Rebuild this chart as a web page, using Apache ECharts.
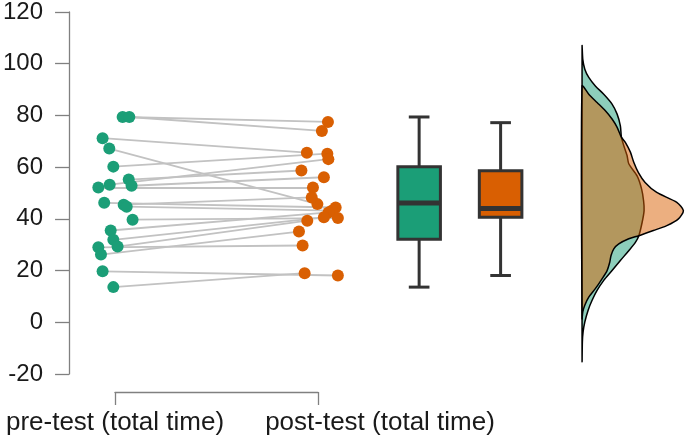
<!DOCTYPE html>
<html><head><meta charset="utf-8">
<script src="https://cdn.jsdelivr.net/npm/echarts@6/dist/echarts.min.js"></script>
<style>html,body{margin:0;padding:0;background:#fff}#c{width:685px;height:443px}</style>
</head><body><div id="c"></div>
<script>
// ---- data ----
const categories = ['pre-test (total time)', 'post-test (total time)'];
const yTicks = [-20, 0, 20, 40, 60, 80, 100, 120];

// paired observations (same index = same subject)
const preValues  = [79.4, 79.4, 71.2, 67.2, 60.2, 52.1, 53.2, 55.2, 52.8, 46.2, 45.5, 44.7, 39.7, 35.5, 31.9, 29.3, 29.0, 26.2, 19.7, 13.6];
const postValues = [77.5, 74.0, 65.6, 45.7, 65.2, 52.1, 63.1, 58.7, 56.1, 44.4, 48.3, 43.2, 40.3, 42.5, 40.6, 39.3, 29.7, 35.1, 18.1, 19.0];
// horizontal jitter of each point around its category
const preJitter  = [0.033, 0.066, -0.066, -0.033, -0.013, -0.087, -0.031, 0.063, 0.077, -0.058, 0.038, 0.053, 0.082, -0.026, -0.013, 0.008, -0.087, -0.074, -0.066, -0.013];
const postJitter = [0.046, 0.016, -0.058, -0.006, 0.043, -0.028, 0.048, -0.085, 0.026, 0.084, -0.034, 0.067, 0.095, 0.049, 0.026, -0.056, -0.079, -0.097, 0.095, -0.069];

// box statistics: [lower whisker, Q1, median, Q3, upper whisker]
const preBox  = [13.6, 32.1, 46.1, 60.2, 79.4];
const postBox = [18.1, 40.6, 44.0, 58.6, 77.2];

// half-violin densities (relative density at each value)
const preDensY  = [106.9, 101.7, 97.9, 94.7, 91.4, 88.2, 84.4, 80.5, 76.0, 71.6, 68.3, 64.5, 61.3, 56.6, 51.6, 47.0, 43.2, 38.5, 33.5, 30.9, 27.7, 23.9, 20.0, 16.2, 12.3, 8.5, 4.6, 0.1, -3.7, -7.6, -15.0];
const preDens   = [0, 0.007, 0.027, 0.066, 0.131, 0.214, 0.296, 0.346, 0.378, 0.388, 0.412, 0.444, 0.461, 0.543, 0.587, 0.607, 0.612, 0.592, 0.56, 0.526, 0.461, 0.378, 0.296, 0.214, 0.148, 0.099, 0.059, 0.027, 0.01, 0.003, 0];
const postDensY = [91.4, 88.2, 85.0, 81.8, 78.6, 75.4, 71.6, 69.6, 65.8, 61.9, 57.9, 54.1, 50.2, 46.4, 43.2, 40.0, 37.4, 35.5, 33.5, 32.3, 30.3, 28.4, 25.8, 23.2, 20.0, 16.8, 13.0, 9.7, 6.6, 4.0, 1.4];
const postDens  = [0, 0.066, 0.148, 0.23, 0.296, 0.346, 0.388, 0.427, 0.477, 0.51, 0.556, 0.622, 0.737, 0.935, 1.0, 0.951, 0.836, 0.704, 0.56, 0.461, 0.362, 0.313, 0.286, 0.273, 0.247, 0.197, 0.131, 0.066, 0.027, 0.007, 0];

// ---- layout / style ----
const GREEN = '#1b9e77', ORANGE = '#d95f02';
const catPos = [1, 2];
const boxPos = [2.496, 2.898];
const densBase = 3.3, densScale = 0.5;
const boxHalf = 0.105, capHalf = 0.051;
const FONT = 'Liberation Sans, Arial, sans-serif';
const FSY = 24, FSX = 26;

const prePts  = preValues.map((v, i) => [catPos[0] + preJitter[i], v]);
const postPts = postValues.map((v, i) => [catPos[1] + postJitter[i], v]);
const links = preValues.map((v, i) => ({ coords: [prePts[i], postPts[i]] }));

const boxData = [[boxPos[0], ...preBox], [boxPos[1], ...postBox]];
const boxColors = [GREEN, ORANGE];

const dens = [
  { y: preDensY, d: preDens, fill: 'rgba(27,158,119,0.5)' },
  { y: postDensY, d: postDens, fill: 'rgba(217,95,2,0.5)' }
];

const chart = echarts.init(document.getElementById('c'), null, { renderer: 'canvas' });
chart.setOption({
  animation: false,
  backgroundColor: '#fff',
  grid: [
    { left: 68, right: 0, top: 10.7, height: 363.3 },
    { left: 115, width: 203, top: 380, height: 12 }
  ],
  xAxis: [
    { type: 'value', gridIndex: 0, min: 1 - 47 / 203, max: 1 + 570 / 203, show: false },
    {
      type: 'value', gridIndex: 1, min: 1, max: 2, interval: 1, position: 'bottom',
      axisLine: { show: true, lineStyle: { color: '#808080', width: 1.3 } },
      axisTick: { show: true, length: 13, lineStyle: { color: '#808080', width: 1.3 } },
      splitLine: { show: false },
      axisLabel: {
        show: true, margin: 18, showMinLabel: true, showMaxLabel: true,
        color: '#1a1a1a', fontSize: FSX, fontFamily: FONT,
        formatter: v => v === 1 ? '{a|' + categories[0] + '}' : '{b|' + categories[1] + '}',
        rich: {
          a: { fontSize: FSX, fontFamily: FONT, color: '#1a1a1a' },
          b: { fontSize: FSX, fontFamily: FONT, color: '#1a1a1a', padding: [0, 0, 0, 124] }
        }
      }
    }
  ],
  yAxis: [
    {
      type: 'value', gridIndex: 0, min: yTicks[0], max: yTicks[yTicks.length - 1], interval: 20,
      axisLine: { show: true, lineStyle: { color: '#808080', width: 1.3 } },
      axisTick: { show: true, length: 14, lineStyle: { color: '#808080', width: 1.3 } },
      splitLine: { show: false },
      axisLabel: { margin: 26, color: '#1a1a1a', fontSize: FSY, fontFamily: FONT }
    },
    { type: 'value', gridIndex: 1, show: false, min: 0, max: 1 }
  ],
  series: [
    {
      type: 'lines', coordinateSystem: 'cartesian2d', xAxisIndex: 0, yAxisIndex: 0,
      data: links, silent: true, z: 1,
      lineStyle: { color: '#c2c2c2', width: 1.8, opacity: 1 }
    },
    {
      type: 'scatter', xAxisIndex: 0, yAxisIndex: 0, data: prePts, symbolSize: 12, z: 3,
      itemStyle: { color: GREEN, opacity: 1 }
    },
    {
      type: 'scatter', xAxisIndex: 0, yAxisIndex: 0, data: postPts, symbolSize: 12, z: 3,
      itemStyle: { color: ORANGE, opacity: 1 }
    },
    {
      type: 'custom', xAxisIndex: 0, yAxisIndex: 0, data: boxData, z: 4,
      encode: { x: 0, y: [1, 2, 3, 4, 5] },
      renderItem: (params, api) => {
        const x = api.value(0);
        const lo = api.coord([x, api.value(1)]);
        const q1 = api.coord([x, api.value(2)]);
        const md = api.coord([x, api.value(3)]);
        const q3 = api.coord([x, api.value(4)]);
        const hi = api.coord([x, api.value(5)]);
        const hw = api.size([boxHalf, 0])[0];
        const cw = api.size([capHalf, 0])[0];
        const cx = lo[0];
        const ls = { stroke: '#333', lineWidth: 3 };
        return {
          type: 'group',
          children: [
            { type: 'line', shape: { x1: cx, y1: q3[1], x2: cx, y2: hi[1] }, style: ls },
            { type: 'line', shape: { x1: cx, y1: q1[1], x2: cx, y2: lo[1] }, style: ls },
            { type: 'line', shape: { x1: cx - cw, y1: hi[1], x2: cx + cw, y2: hi[1] }, style: ls },
            { type: 'line', shape: { x1: cx - cw, y1: lo[1], x2: cx + cw, y2: lo[1] }, style: ls },
            { type: 'rect', shape: { x: cx - hw, y: q3[1], width: 2 * hw, height: q1[1] - q3[1] },
              style: { fill: boxColors[params.dataIndex], stroke: '#333', lineWidth: 3 } },
            { type: 'line', shape: { x1: cx - hw, y1: md[1], x2: cx + hw, y2: md[1] }, style: { stroke: '#333', lineWidth: 5 } }
          ]
        };
      }
    },
    {
      type: 'custom', xAxisIndex: 0, yAxisIndex: 0, data: [[densBase, 0], [densBase, 1]], z: 2,
      renderItem: (params, api) => {
        const g = dens[params.dataIndex];
        const pts = [];
        for (let i = 0; i < g.y.length; i++) pts.push(api.coord([densBase + g.d[i] * densScale, g.y[i]]));
        return {
          type: 'polygon', shape: { points: pts, smooth: 0.25 },
          style: { fill: g.fill, stroke: '#000', lineWidth: 1.5 }
        };
      }
    }
  ]
});
</script></body></html>
